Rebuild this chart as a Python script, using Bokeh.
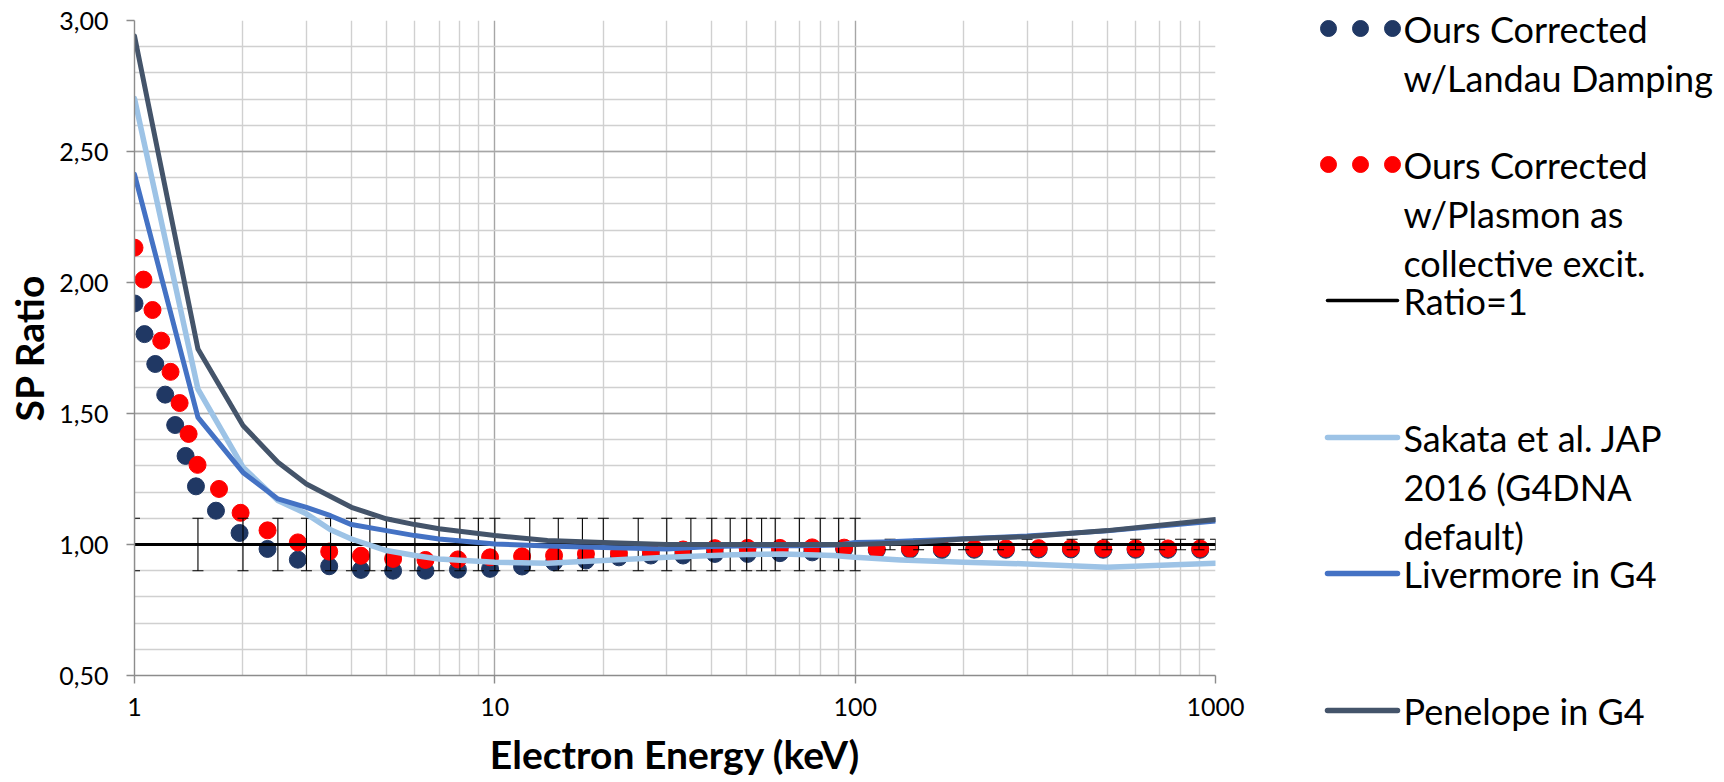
from bokeh.plotting import figure
from bokeh.models import Range1d, FixedTicker, CustomJSTickFormatter
from bokeh.layouts import row, column
from bokeh.core.properties import value
from bokeh.embed import file_html
from bokeh.resources import INLINE

# ---------------- data ----------------
land_E = [1.0, 1.066, 1.142, 1.217, 1.297, 1.386, 1.481, 1.683, 1.957,
          2.34, 2.84, 3.47, 4.25, 5.22, 6.42, 7.9, 9.7, 11.9, 14.6, 17.9, 22.1, 27.1, 33.3, 40.8,
          50.3, 61.8, 76, 93.2, 114.8, 141.9, 174, 214, 262, 323, 397, 488, 600, 738, 907]
land_R = [1.920, 1.803, 1.689, 1.572, 1.456, 1.338, 1.222, 1.129, 1.044,
          0.983, 0.942, 0.917, 0.903, 0.900, 0.900, 0.904, 0.907, 0.916, 0.932, 0.939, 0.951, 0.958,
          0.958, 0.964, 0.964, 0.967, 0.970, 0.983, 0.979, 0.980, 0.979, 0.980, 0.980, 0.981, 0.981,
          0.980, 0.980, 0.980, 0.980]

plas_E = [1.0, 1.059, 1.122, 1.186, 1.259, 1.334, 1.413, 1.496, 1.716, 1.97,
          2.34, 2.84, 3.47, 4.25, 5.22, 6.42, 7.9, 9.7, 11.9, 14.6, 17.9, 22.1, 27.1, 33.3, 40.8,
          50.3, 61.8, 76, 93.2, 114.8, 141.9, 174, 214, 262, 323, 397, 488, 600, 738, 907]
plas_R = [2.133, 2.011, 1.895, 1.778, 1.659, 1.540, 1.422, 1.304, 1.212, 1.121,
          1.054, 1.008, 0.973, 0.957, 0.945, 0.941, 0.943, 0.951, 0.955, 0.958, 0.964, 0.968, 0.973,
          0.981, 0.986, 0.987, 0.987, 0.989, 0.988, 0.983, 0.985, 0.985, 0.985, 0.985, 0.986, 0.986,
          0.985, 0.985, 0.985, 0.985]

ratio_E = [1, 1000]
ratio_R = [1.0, 1.0]

err_E = [1, 1.5, 2, 2.5, 3, 3.5, 4, 4.5, 5, 6, 7, 8, 9, 10, 12.5, 15, 17.5, 20, 25, 30, 35, 40, 45,
         50, 55, 60, 70, 80, 90, 100, 125, 150, 200, 250, 300, 400, 500, 600, 700, 800, 900, 1000]
err_D = [0.1] * 30 + [0.02] * 12

sak_E = [1, 1.5, 2, 2.5, 3, 3.5, 4, 5, 6, 7, 10, 14, 20, 30, 46, 63, 87, 100, 134, 200, 300, 500, 1000]
sak_R = [2.702, 1.593, 1.295, 1.168, 1.117, 1.056, 1.021, 0.977, 0.958, 0.945, 0.932, 0.928, 0.939,
         0.951, 0.961, 0.964, 0.958, 0.951, 0.941, 0.932, 0.926, 0.913, 0.928]

liv_E = [1, 1.5, 2, 2.5, 3, 3.5, 4, 5, 6, 7, 10, 14, 20, 30, 40, 50, 70, 90, 100, 120, 200, 300, 500, 1000]
liv_R = [2.413, 1.485, 1.275, 1.174, 1.142, 1.110, 1.076, 1.053, 1.034, 1.021, 1.002, 0.994, 0.989,
         0.983, 0.992, 0.995, 0.995, 0.998, 1.008, 1.010, 1.022, 1.032, 1.052, 1.090]

pen_E = [1, 1.5, 2, 2.5, 3, 3.5, 4, 5, 6, 7, 10, 14, 20, 30, 50, 100, 146, 200, 300, 500, 1000]
pen_R = [2.941, 1.746, 1.454, 1.314, 1.231, 1.183, 1.142, 1.098, 1.076, 1.060, 1.034, 1.015, 1.008,
         1.000, 1.000, 1.000, 1.008, 1.021, 1.030, 1.053, 1.095]

x_major = [1, 10, 100, 1000]
x_minor = [m * d for d in (1, 10, 100) for m in range(2, 10)]
y_major = [0.5, 1.0, 1.5, 2.0, 2.5, 3.0]
y_minor = [round(0.5 + 0.1 * i, 1) for i in range(26)]

legend_labels = [
    ["Ours Corrected", "w/Landau Damping"],
    ["Ours Corrected", "w/Plasmon as", "collective excit."],
    ["Ratio=1"],
    ["Sakata et al. JAP", "2016 (G4DNA", "default)"],
    ["Livermore in G4"],
    ["Penelope in G4"],
]

C_LAND = "#203864"
C_PLAS = "#ff0000"
C_SAK = "#9dc3e6"
C_LIV = "#4472c4"
C_PEN = "#44546a"
FONT = "Lato"

# ---------------- geometry ----------------
H = 782
FL, FT, FR, FB = 134, 20, 1215, 675
MAIN_W = 1248
LEG_W = 468

p = figure(width=MAIN_W, height=H, x_axis_type="log",
           x_range=Range1d(1, 1000), y_range=Range1d(0.5, 3.0),
           output_backend="svg", toolbar_location=None,
           min_border_left=FL, min_border_right=MAIN_W - FR, min_border_top=FT,
           min_border_bottom=H - FB)
p.outline_line_color = None
p.background_fill_color = "white"
p.border_fill_color = "white"

xt = FixedTicker(ticks=x_major, minor_ticks=x_minor)
yt = FixedTicker(ticks=y_major, minor_ticks=y_minor)
p.xaxis.ticker = xt
p.yaxis.ticker = yt
p.xgrid.ticker = xt
p.ygrid.ticker = yt
for g in (p.xgrid, p.ygrid):
    g.grid_line_color = "#a6a6a6"
    g.grid_line_width = 1.4
    g.minor_grid_line_color = "#d0d0d0"
    g.minor_grid_line_width = 1.4

p.xaxis.formatter = CustomJSTickFormatter(code="return String(Math.round(tick));")
p.yaxis.formatter = CustomJSTickFormatter(code="return tick.toFixed(2).replace('.', ',');")

for ax in (p.xaxis, p.yaxis):
    ax.axis_line_color = "#8c8c8c"
    ax.axis_line_width = 1.4
    ax.major_tick_line_color = "#8c8c8c"
    ax.major_tick_line_width = 1.4
    ax.major_tick_out = 8
    ax.major_tick_in = 0
    ax.minor_tick_line_color = None
    ax.major_label_text_font = FONT
    ax.major_label_text_font_size = "25px"
    ax.major_label_text_color = "#000000"
    ax.axis_label_text_font = FONT
    ax.axis_label_text_font_size = "39px"
    ax.axis_label_text_font_style = "bold"
    ax.axis_label_text_color = "#000000"

p.xaxis.axis_label = "Electron Energy (keV)"
p.yaxis.axis_label = "SP Ratio"
p.xaxis.major_label_standoff = 14
p.xaxis.axis_label_standoff = 12
p.yaxis.major_label_standoff = 18
p.yaxis.axis_label_standoff = 4

# ---------------- series ----------------
p.scatter(land_E, land_R, size=17, color=C_LAND, marker="circle")
p.scatter(plas_E, plas_R, size=17, color=C_PLAS, marker="circle")
p.line(ratio_E, ratio_R, line_color="black", line_width=3.2)

err_lo = [1.0 - d for d in err_D]
err_hi = [1.0 + d for d in err_D]
p.segment(x0=err_E, y0=err_lo, x1=err_E, y1=err_hi, line_color="black", line_width=1.1)
p.scatter(err_E, err_lo, marker="dash", size=11, line_color="black", line_width=1.1)
p.scatter(err_E, err_hi, marker="dash", size=11, line_color="black", line_width=1.1)

p.line(sak_E, sak_R, line_color=C_SAK, line_width=5.5, line_join="round", line_cap="round")
p.line(liv_E, liv_R, line_color=C_LIV, line_width=5, line_join="round", line_cap="round")
p.line(pen_E, pen_R, line_color=C_PEN, line_width=5, line_join="round", line_cap="round")

# ---------------- legend panel (pixel coordinates) ----------------
leg = figure(width=LEG_W, height=H, x_range=Range1d(MAIN_W, MAIN_W + LEG_W), y_range=Range1d(H, 0),
             output_backend="svg", toolbar_location=None,
             min_border=0, min_border_left=0, min_border_right=0,
             min_border_top=0, min_border_bottom=0)
leg.axis.visible = False
leg.grid.visible = False
leg.outline_line_color = None

item_y = [28, 164, 300, 437, 573, 710]
line_gap = 49
dot_x = [1328, 1360, 1392]
sw_x = [1327, 1397]
text_x = 1403

leg.scatter(dot_x, [item_y[0]] * 3, size=16, color=C_LAND, marker="circle")
leg.scatter(dot_x, [item_y[1]] * 3, size=16, color=C_PLAS, marker="circle")
leg.line(sw_x, [item_y[2]] * 2, line_color="black", line_width=3.5, line_cap="round")
leg.line(sw_x, [item_y[3]] * 2, line_color=C_SAK, line_width=5.5, line_cap="round")
leg.line(sw_x, [item_y[4]] * 2, line_color=C_LIV, line_width=5.5, line_cap="round")
leg.line(sw_x, [item_y[5]] * 2, line_color=C_PEN, line_width=5.5, line_cap="round")

for yy, lines in zip(item_y, legend_labels):
    for k, t in enumerate(lines):
        leg.text(x=[text_x], y=[yy + k * line_gap], text=[t], text_font=value(FONT),
                 text_font_size="36px", text_baseline="middle", text_align="left",
                 text_color="#000000")

layout = row(p, column(leg))
open("out.html", "w").write(file_html(layout, INLINE))
